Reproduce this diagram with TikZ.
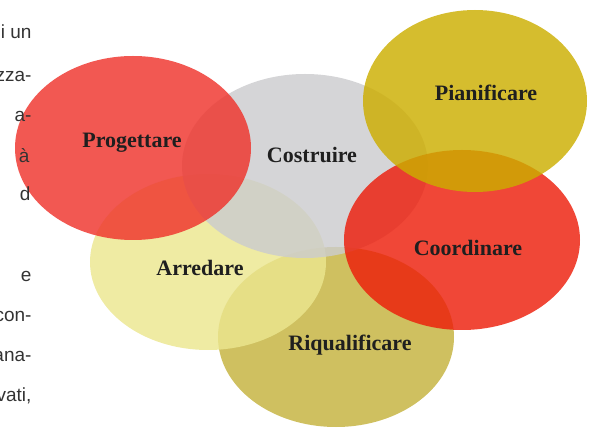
\documentclass[tikz,border=0pt]{standalone}
\usepackage{fontspec}
\setmainfont{Liberation Serif}
\setsansfont{Liberation Sans}
\usepackage{tikz}
\usetikzlibrary{shapes.geometric, positioning}

\definecolor{progC}{RGB}{239,51,44}
\definecolor{costrC}{RGB}{204,204,206}
\definecolor{pianC}{RGB}{204,174,0}
\definecolor{coordC}{RGB}{237,30,11}
\definecolor{arrC}{RGB}{235,230,143}
\definecolor{riqC}{RGB}{196,178,61}

\begin{document}
\begin{tikzpicture}[x=1pt,y=-1pt,
        blob/.style={ellipse, draw=none, fill opacity=0.82, inner sep=0pt},
        tag/.style={font=\fontsize{22}{24}\selectfont\bfseries, text=black!88},
        side/.style={anchor=base east, font=\sffamily\fontsize{19}{21}\selectfont, text=black!80}]
        \useasboundingbox (0,0) rectangle (589,430);

        \node[blob, fill=riqC,   minimum width=236pt, minimum height=180pt] (riqE)   at (336,337) {};
        \node[blob, fill=arrC,   minimum width=236pt, minimum height=176pt] (arrE)   at (208,262) {};
        \node[blob, fill=costrC, minimum width=246pt, minimum height=184pt] (costrE) at (305,166) {};
        \node[blob, fill=progC,  minimum width=236pt, minimum height=184pt] (progE)  at (133,148) {};
        \node[blob, fill=coordC, minimum width=236pt, minimum height=180pt] (coordE) at (462,240) {};
        \node[blob, fill=pianC,  minimum width=224pt, minimum height=182pt] (pianE)  at (475,101) {};

        \node[tag] (prog)  at (132,143) {Progettare};
        \node[tag] (costr) at (312,155) {Costruire};
        \node[tag] (pian)  at (486,93)  {Pianificare};
        \node[tag] (coord) at (468,248) {Coordinare};
        \node[tag] (arr)   at (200,268) {Arredare};
        \node[tag] (riq)   at (350,345) {Riqualificare};

        \node[side] (t1) at (35,39)  {i un};
        \node[side] (t2) at (35,82)  {zza-};
        \node[side] (t3) at (35,122) {a-};
        \node[side] (t4) at (33,163) {à};
        \node[side] (t5) at (34,201) {d};
        \node[side] (t6) at (35,282) {e};
        \node[side] (t7) at (35,322) {con-};
        \node[side] (t8) at (35,361) {ana-};
        \node[side] (t9) at (35,401) {vati,};
    \end{tikzpicture}
\end{document}
